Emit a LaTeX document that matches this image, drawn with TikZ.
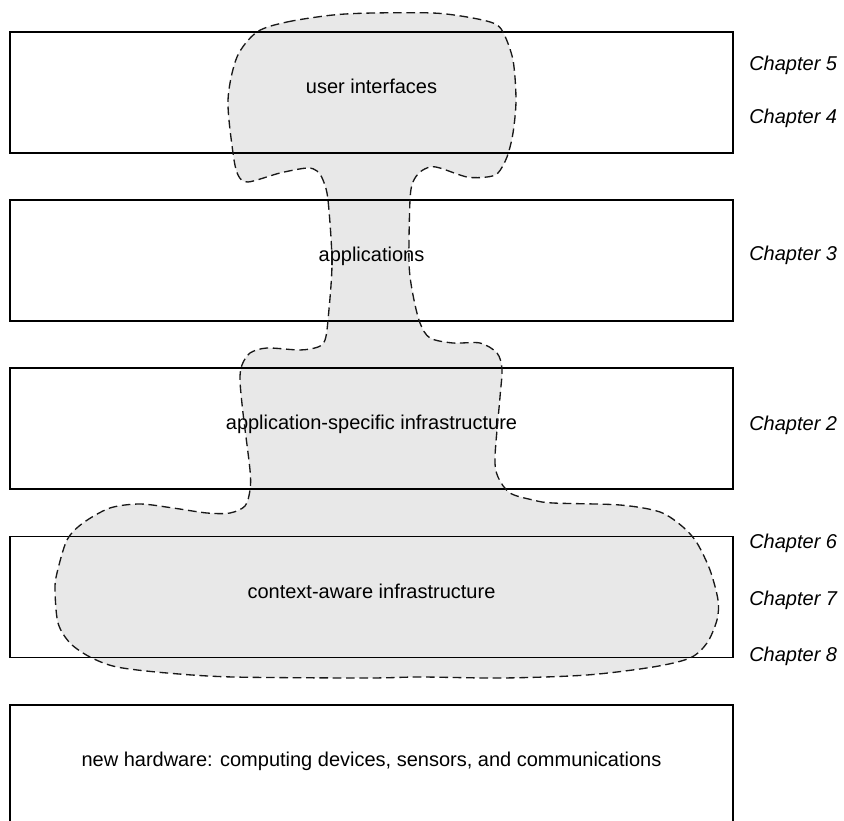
\documentclass[tikz,border=0pt]{standalone}
\usepackage{fontspec}
\setmainfont{Liberation Sans}
\definecolor{blobgray}{RGB}{232,232,232}
\tikzset{
	layer/.style={draw, line width=1.2pt, minimum width=542.25pt, minimum height=90.75pt, inner sep=0pt},
	lbl/.style={inner sep=0pt, text height=10.9pt, text depth=3.2pt, font=\fontsize{15pt}{18pt}\selectfont},
	chap/.style={lbl, anchor=west, font=\fontsize{15pt}{18pt}\selectfont\itshape},
	blobline/.style={line width=1pt, dash pattern=on 6.5pt off 3.5pt, black!90}
}
\begin{document}
\begin{tikzpicture}[x=0.75pt, y=-0.75pt]
		\useasboundingbox (0,0) rectangle (844,821);
		\clip (0,0) rectangle (844,821);
		
		% the grey region, kept as a path for the dashed outline later
		\path[save path=\blob] plot[smooth cycle, tension=0.5] coordinates {
			(257,32) (287,22) (333,15) (373,13) (433,13) (467,17) (493,23) (503,32)
			(513,60) (516,100) (513,133) (507,157) (498,173) (487,177) (467,177)
			(440,168) (430,167) (420,172) (413,182) (410,200) (409,263) (413,295)
			(420,323) (430,338) (453,343) (480,343) (497,353) (502,369) (500,397)
			(495,457) (498,477) (510,493) (533,500) (553,503) (620,505) (660,512)
			(683,527) (697,543) (710,570) (718,600) (717,620) (707,643) (690,658)
			(653,667) (587,675) (503,678) (420,677) (367,678) (233,677) (167,673)
			(117,667) (90,657) (70,643) (58,623) (55,590) (57,573) (67,540) (83,523)
			(110,508) (140,504) (173,508) (207,513) (230,513) (245,506) (250,490)
			(250,470) (243,413) (240,380) (242,365) (250,353) (267,348) (300,350)
			(318,347) (325,340) (328,320) (332,263) (328,200) (323,180) (317,171)
			(307,168) (280,173) (248,182) (238,175) (233,153) (228,100) (237,57)};
		\fill[blobgray, use path=\blob];
		
		\node[layer] (ui) at (371.5,92.5) {};
		\node[layer] (apps) at (371.5,260.5) {};
		\node[layer] (asi) at (371.5,428.5) {};
		\node[layer] (cai) at (371.5,597) {};
		\node[layer] (hw) at (371.5,765.5) {};
		
		\node[lbl] (uitxt) at ([yshift=2.8pt]ui.center) {user interfaces};
		\node[lbl] (appstxt) at ([yshift=2.8pt]apps.center) {applications};
		\node[lbl] (asitxt) at ([yshift=2.8pt]asi.center) {application-specific infrastructure};
		\node[lbl] (caitxt) at ([yshift=2.8pt]cai.center) {context-aware infrastructure};
		\node[lbl] (hwtxt) at ([yshift=2.8pt]hw.center) {new hardware: computing devices, sensors, and communications};
		
		\node[chap] (ch5) at (749,65) {Chapter 5};
		\node[chap] (ch4) at (749,118) {Chapter 4};
		\node[chap] (ch3) at (749,255) {Chapter 3};
		\node[chap] (ch2) at (749,425) {Chapter 2};
		\node[chap] (ch6) at (749,543) {Chapter 6};
		\node[chap] (ch7) at (749,600) {Chapter 7};
		\node[chap] (ch8) at (749,656) {Chapter 8};
		
		\draw[blobline, use path=\blob];
\end{tikzpicture}
\end{document}
